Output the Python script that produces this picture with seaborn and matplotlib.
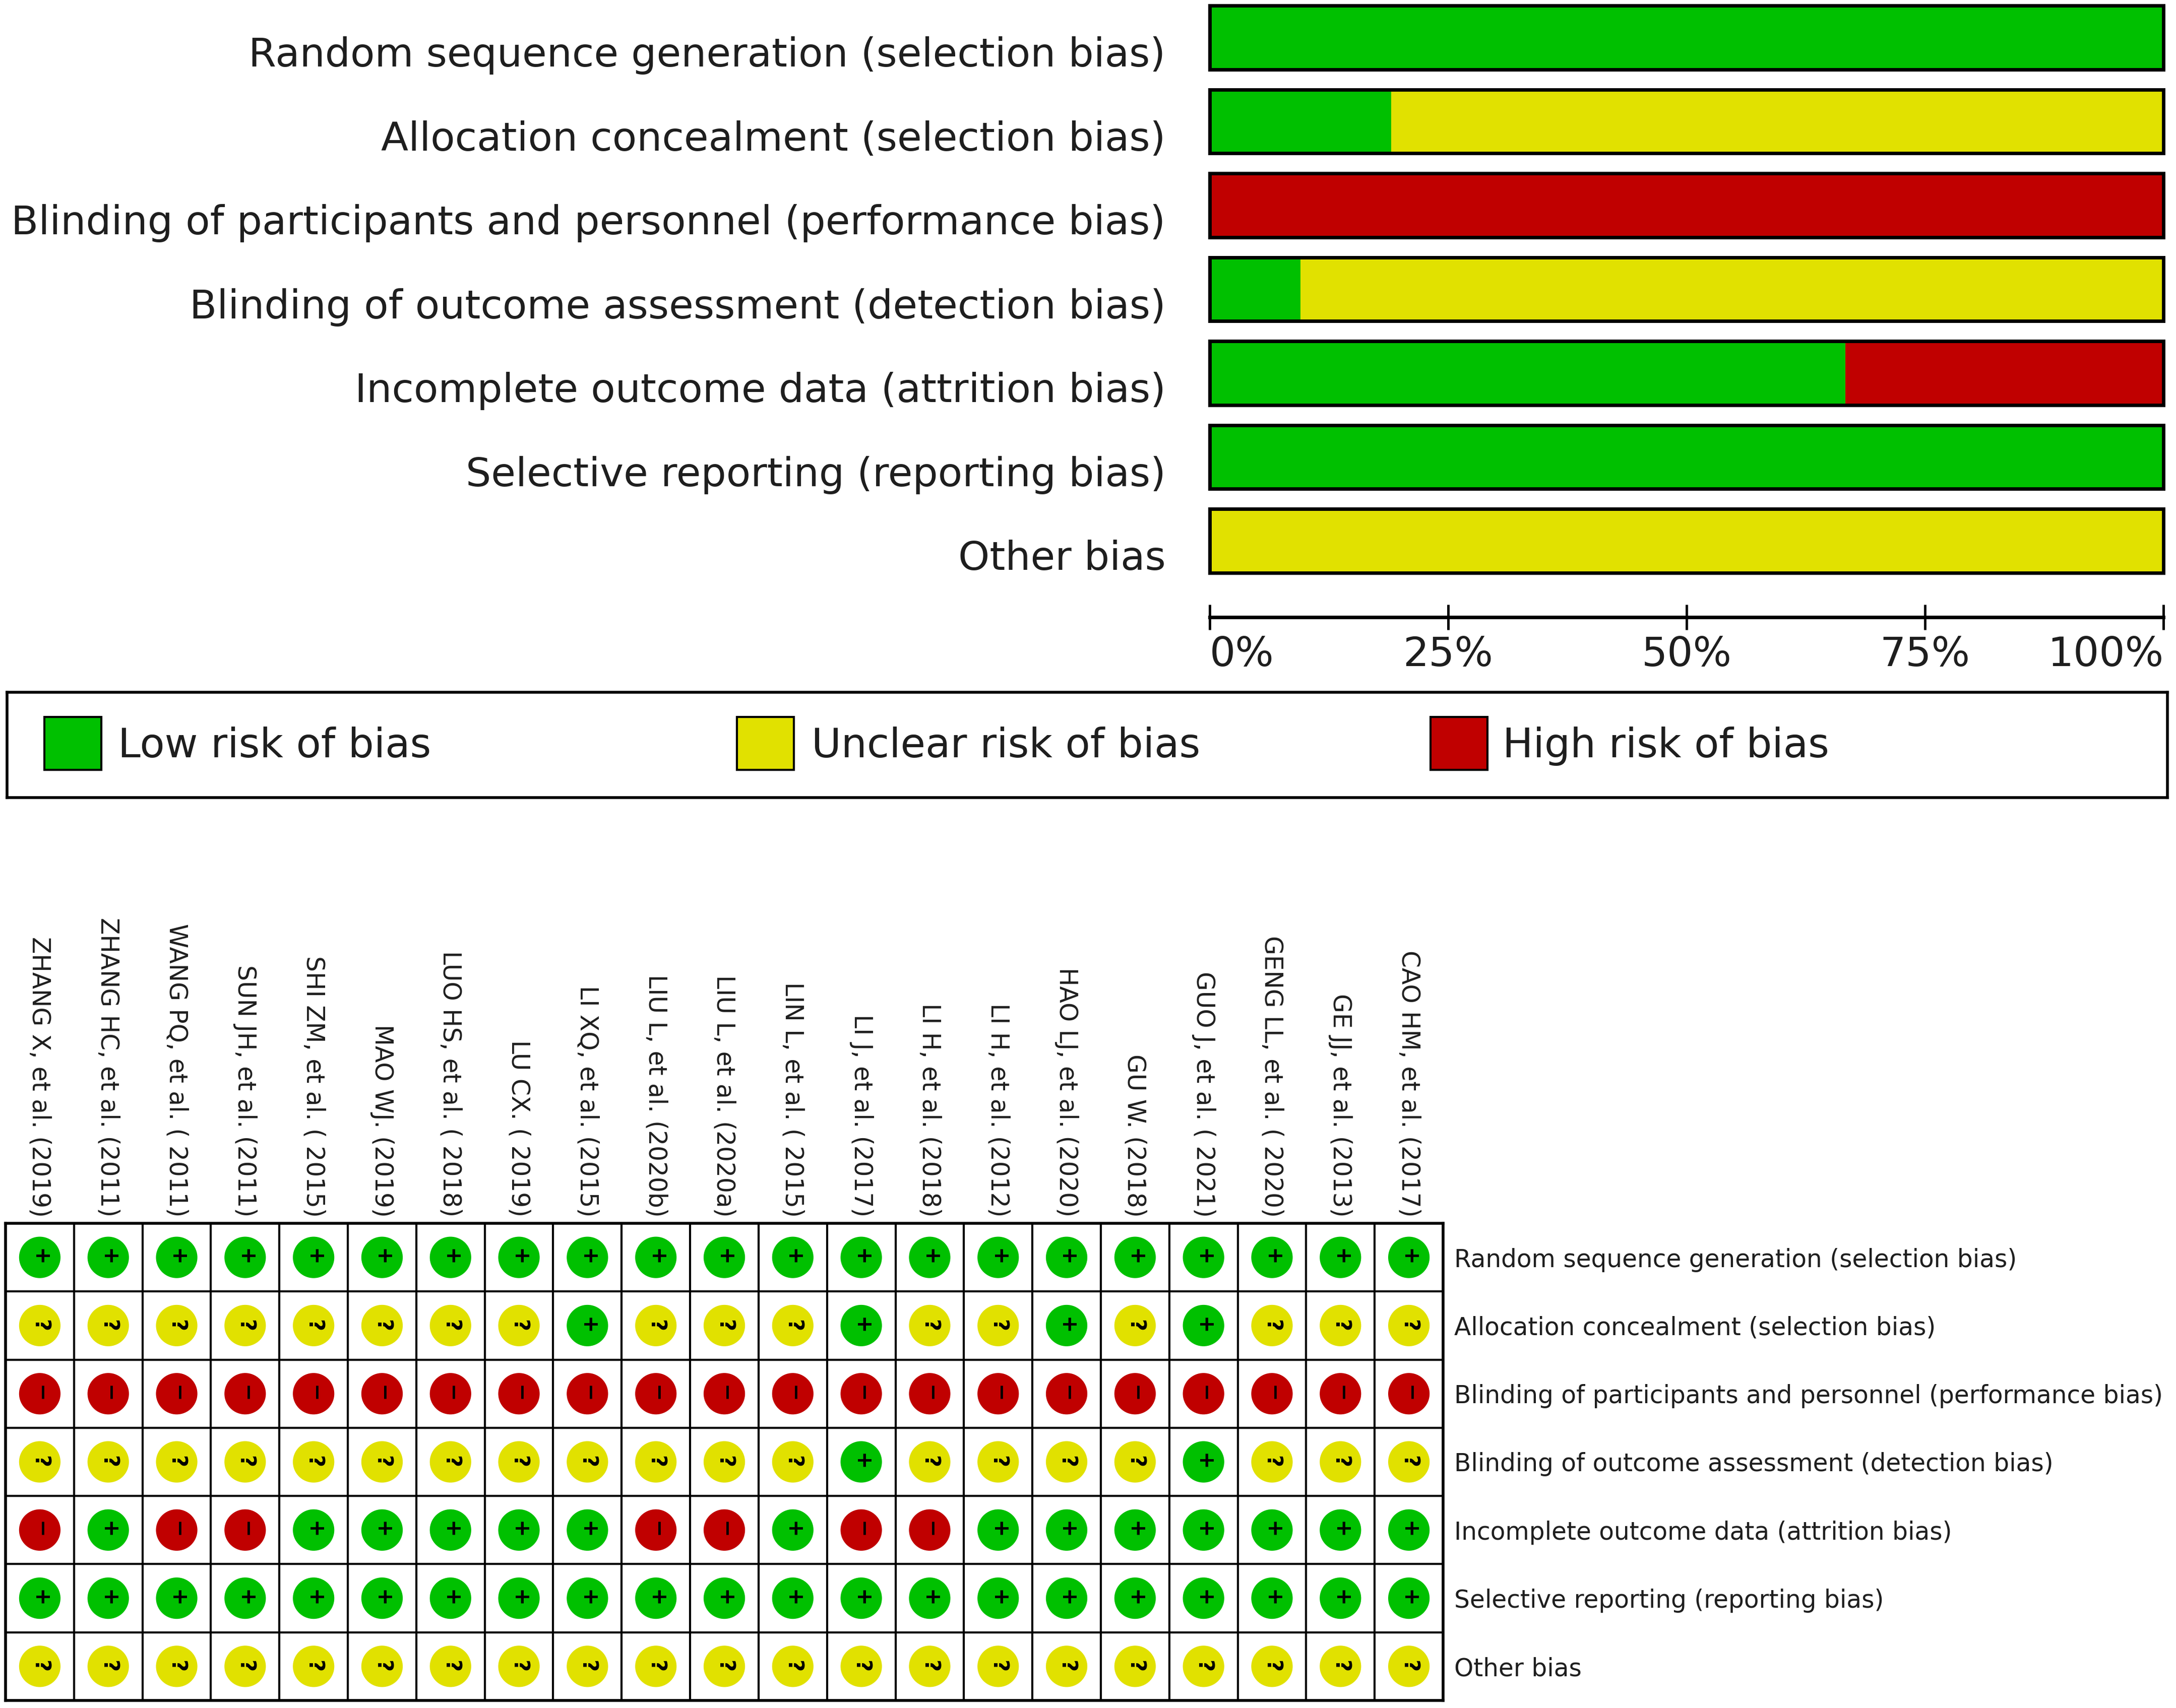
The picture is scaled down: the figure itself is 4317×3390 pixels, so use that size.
import numpy as np
import pandas as pd
import matplotlib
matplotlib.use("Agg")
import matplotlib.pyplot as plt
from matplotlib.patches import Rectangle
from matplotlib.transforms import ScaledTranslation
import seaborn as sns

# ---------------- data ----------------
domains = [
    "Random sequence generation (selection bias)",
    "Allocation concealment (selection bias)",
    "Blinding of participants and personnel (performance bias)",
    "Blinding of outcome assessment (detection bias)",
    "Incomplete outcome data (attrition bias)",
    "Selective reporting (reporting bias)",
    "Other bias",
]
studies = [
    "ZHANG X, et al. (2019)",
    "ZHANG HC, et al. (2011)",
    "WANG PQ, et al. ( 2011)",
    "SUN JH, et al. (2011)",
    "SHI ZM, et al. ( 2015)",
    "MAO WJ. (2019)",
    "LUO HS, et al. ( 2018)",
    "LU CX. ( 2019)",
    "LI XQ, et al. (2015)",
    "LIU L, et al. (2020b)",
    "LIU L, et al. (2020a)",
    "LIN L, et al. ( 2015)",
    "LI J, et al. (2017)",
    "LI H, et al. (2018)",
    "LI H, et al. (2012)",
    "HAO LJ, et al. (2020)",
    "GU W. (2018)",
    "GUO J, et al. ( 2021)",
    "GENG LL, et al. ( 2020)",
    "GE JJ, et al. (2013)",
    "CAO HM, et al. (2017)",
]
# judgement per domain, one character per study ("+" low, "?" unclear, "-" high)
random_sequence = "+++++++++++++++++++++"
allocation      = "????????+???+??+?+???"
blinding_part   = "---------------------"
blinding_outc   = "????????????+????+???"
incomplete      = "-+--+++++--+--+++++++"
selective       = "+++++++++++++++++++++"
other_bias      = "?????????????????????"
judgements = [random_sequence, allocation, blinding_part, blinding_outc,
              incomplete, selective, other_bias]

risk_labels = ["Low risk of bias", "Unclear risk of bias", "High risk of bias"]
tick_values = [0, 25, 50, 75, 100]
tick_labels = ["0%", "25%", "50%", "75%", "100%"]

GREEN = "#00c000"
YELLOW = "#e1e100"
RED = "#c00000"
TXT = "#1e1e1e"

# ---------------- derived tables ----------------
n = len(studies)
low_pct = [row.count("+") / n * 100 for row in judgements]
unc_pct = [row.count("?") / n * 100 for row in judgements]
high_pct = [row.count("-") / n * 100 for row in judgements]
df_bar = pd.DataFrame({"domain": domains, "low": low_pct,
                       "unclear": unc_pct, "high": high_pct})
df_bar["lu"] = df_bar["low"] + df_bar["unclear"]
df_bar["all"] = df_bar["lu"] + df_bar["high"]

records = []
for j, row in enumerate(judgements):
    for i, c in enumerate(row):
        records.append({"x": i, "y": j, "j": c})
df_long = pd.DataFrame(records)

# ---------------- figure ----------------
sns.set_theme(style="white")
plt.rcParams["font.family"] = ["DejaVu Sans"]

W, H, DPI = 4317, 3390, 100
fig = plt.figure(figsize=(W / DPI, H / DPI), dpi=DPI)
fig.patch.set_facecolor("white")

# ---- top summary bars ----
ax = fig.add_axes([2400 / W, 1 - 1225 / H, 1892 / W, 1214 / H])
sns.barplot(data=df_bar, x="all", y="domain", orient="h", color=RED,
            width=0.76, saturation=1, linewidth=0, ax=ax)
sns.barplot(data=df_bar, x="lu", y="domain", orient="h", color=YELLOW,
            width=0.76, saturation=1, linewidth=0, ax=ax)
sns.barplot(data=df_bar, x="low", y="domain", orient="h", color=GREEN,
            width=0.76, saturation=1, linewidth=0, ax=ax)
sns.barplot(data=df_bar, x="all", y="domain", orient="h", color="black",
            fill=False, width=0.76, linewidth=5, ax=ax)
for p in ax.patches:
    p.set_clip_on(False)
ax.set_xlim(0, 100)
ax.set_ylim(6.91, -0.38)
ax.set_xlabel("")
ax.set_ylabel("")
for s in ["top", "left", "right"]:
    ax.spines[s].set_visible(False)
ax.spines["bottom"].set_linewidth(5)
ax.spines["bottom"].set_color("black")
ax.set_xticks(tick_values)
ax.set_xticklabels(tick_labels)
xt = ax.get_xticklabels()
xt[0].set_ha("left")
xt[-1].set_ha("right")
ax.tick_params(axis="x", direction="inout", length=36, width=3.5, pad=8,
               labelsize=58, labelcolor=TXT, color="black", bottom=True)
ax.tick_params(axis="y", length=0, pad=63, labelsize=57, labelcolor=TXT)
shift_down = ScaledTranslation(0, -28 / DPI, fig.dpi_scale_trans)
for lbl in ax.get_yticklabels():
    lbl.set_transform(lbl.get_transform() + shift_down)
ax.set_facecolor("white")

# ---- legend box ----
axl = fig.add_axes([14 / W, 1 - 1583 / H, 4286 / W, 209 / H])
axl.set_xticks([])
axl.set_yticks([])
for s in axl.spines.values():
    s.set_linewidth(4)
    s.set_color("black")
    s.set_visible(True)
leg_colors = [GREEN, YELLOW, RED]
patch_x = [0.0173, 0.3378, 0.6589]
text_x = [0.0513, 0.3724, 0.6923]
for lab, col, px, tx in zip(risk_labels, leg_colors, patch_x, text_x):
    axl.add_patch(Rectangle((px, 0.263), 0.0264, 0.502, transform=axl.transAxes,
                            facecolor=col, edgecolor="black", linewidth=3))
    axl.text(tx, 0.49, lab, transform=axl.transAxes, ha="left", va="center",
             fontsize=58, color=TXT)

# ---- traffic light grid ----
axg = fig.add_axes([11 / W, 1 - 3375 / H, 2852 / W, 947 / H])
sns.scatterplot(data=df_long, x="x", y="y", hue="j",
                palette={"+": GREEN, "?": YELLOW, "-": RED},
                s=3500, linewidth=0, legend=False, ax=axg, zorder=3)
sym_map = {"+": "+", "?": "?", "-": "\u2212"}
for _, r in df_long.iterrows():
    axg.text(r["x"], r["y"], sym_map[r["j"]], ha="center", va="center",
             rotation=270, fontsize=30, fontweight="bold", color="black",
             zorder=4)
axg.set_xlim(-0.5, n - 0.5)
axg.set_ylim(len(domains) - 0.5, -0.5)
axg.set_xlabel("")
axg.set_ylabel("")
axg.set_xticks(range(n))
axg.set_xticklabels(studies, rotation=270)
axg.xaxis.tick_top()
axg.set_yticks(range(len(domains)))
axg.set_yticklabels(domains)
axg.yaxis.tick_right()
axg.tick_params(axis="x", length=0, pad=9, labelsize=35, labelcolor=TXT,
                top=True, bottom=False, labeltop=True, labelbottom=False)
axg.tick_params(axis="y", length=0, pad=16, labelsize=35, labelcolor=TXT,
                left=False, right=True, labelleft=False, labelright=True)
for lbl in axg.get_xticklabels():
    lbl.set_va("bottom")
    lbl.set_ha("center")
axg.set_xticks(np.arange(-0.5, n, 1), minor=True)
axg.set_yticks(np.arange(-0.5, len(domains), 1), minor=True)
axg.tick_params(which="minor", length=0)
axg.grid(False)
axg.grid(which="minor", color="black", linewidth=3)
for s in axg.spines.values():
    s.set_linewidth(4)
    s.set_color("black")
    s.set_visible(True)

fig.savefig("out.png", dpi=DPI, facecolor="white")
